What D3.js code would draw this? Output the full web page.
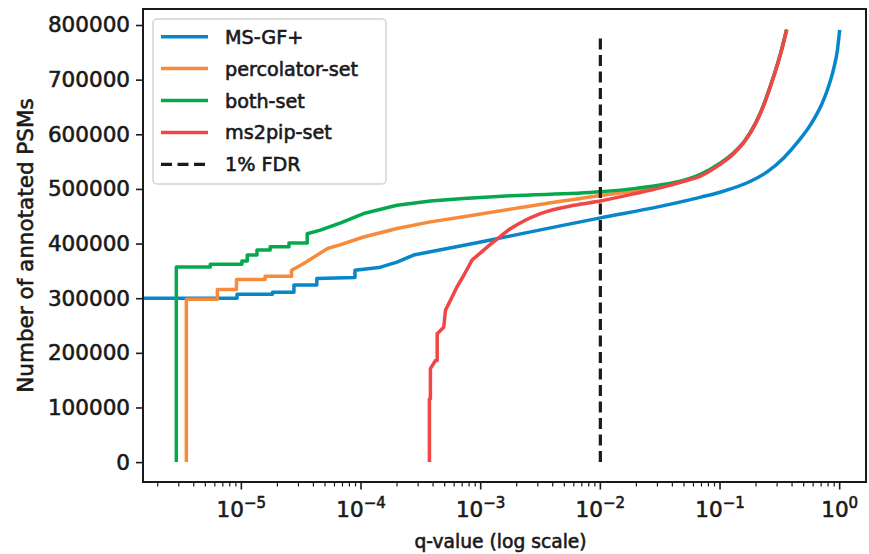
<!DOCTYPE html>
<html>
<head>
<meta charset="utf-8">
<script src="https://cdn.jsdelivr.net/npm/d3@7"></script>
<style>
  body { margin: 0; background: #fff; }
  text { font-family: "DejaVu Sans", sans-serif; fill: #1a1a1a; stroke: #1a1a1a; stroke-width: 0.6px; }
</style>
</head>
<body>
<svg id="chart" width="869" height="554"></svg>
<script>
// q-values and PSM counts (steps are written as repeated q)
var msgfQ = [1.5e-6, 9.2e-6, 9.2e-6, 1.82e-5, 1.82e-5, 2.75e-5, 2.75e-5, 4.27e-5, 4.27e-5, 8.9e-5, 8.9e-5,
             1.41e-4, 2.0e-4, 2.75e-4, 5.25e-4, 1e-3, 3.16e-3, 0.01, 0.0316, 0.0692, 0.1, 0.18, 0.251, 0.342,
             0.447, 0.573, 0.708, 0.789, 0.891, 0.957, 1.0];
var msgfN = [300000, 300000, 307000, 307000, 311000, 311000, 324000, 324000, 336000, 338000, 351000,
             356000, 366000, 379000, 391000, 403000, 425000, 447000, 468000, 485000, 494000, 514000, 532000, 557000,
             586000, 618000, 655000, 681000, 720000, 754000, 791000];

var percQ = [3.47e-6, 3.47e-6, 6.3e-6, 6.3e-6, 9.1e-6, 9.1e-6, 1.58e-5, 1.58e-5, 2.63e-5, 2.63e-5, 3.24e-5, 3.9e-5, 5.25e-5, 6.76e-5,
             1.05e-4, 2.0e-4, 3.8e-4, 7.2e-4, 1.78e-3, 0.01, 0.01995, 0.0316, 0.0501, 0.0692, 0.1, 0.1306,
             0.162, 0.1986, 0.229, 0.2564, 0.288, 0.3214, 0.3606];
var percN = [0, 298000, 298000, 316000, 316000, 334000, 334000, 340000, 340000, 351000, 362000, 373000, 391000, 398000,
             412000, 427600, 439700, 449000, 463000, 488000, 497000, 505000, 515000, 525500, 545500, 565500,
             588000, 620000, 650000, 680000, 713000, 748000, 791000];

var bothQ = [2.86e-6, 2.86e-6, 5.5e-6, 5.5e-6, 1.01e-5, 1.01e-5, 1.12e-5, 1.12e-5, 1.35e-5, 1.35e-5, 1.74e-5, 1.74e-5, 2.5e-5, 2.5e-5,
             3.55e-5, 3.55e-5, 4.57e-5, 6.76e-5, 1.05e-4, 2.0e-4, 3.8e-4, 7.2e-4, 1.78e-3, 0.01, 0.01995, 0.0316, 0.0501,
             0.0692, 0.1, 0.1306, 0.162, 0.1986, 0.229, 0.2564, 0.288, 0.3214, 0.3606];
var bothN = [0, 357000, 357000, 362000, 362000, 368000, 368000, 379000, 379000, 388000, 388000, 394000, 394000, 401000,
             401000, 418000, 424500, 438000, 455000, 470000, 478000, 482600, 487500, 494700, 501000, 507000, 516000,
             527000, 547000, 566500, 589000, 621000, 651000, 681000, 714000, 749000, 792000];

var ms2pipQ = [3.73e-4, 3.73e-4, 3.80e-4, 3.80e-4, 4.19e-4, 4.33e-4, 4.33e-4, 4.91e-4, 5.08e-4, 5.58e-4, 6.35e-4, 7.23e-4,
               8.49e-4, 1.06e-3, 1.21e-3, 1.33e-3, 1.77e-3, 3.16e-3, 6.0e-3, 0.01, 0.01995, 0.0316, 0.0501, 0.0692, 0.1,
               0.1306, 0.162, 0.1986, 0.229, 0.2564, 0.288, 0.3214, 0.3606];
var ms2pipN = [0, 116000, 116000, 171000, 186000, 186000, 235000, 247000, 278000, 296000, 321000, 342000,
               370000, 388000, 399000, 406000, 427000, 455000, 470000, 478000, 492000, 502000, 514000, 524000, 545000,
               565000, 588000, 620000, 650000, 680000, 713000, 748000, 791000];

var seriesNames = ["MS-GF+", "percolator-set", "both-set", "ms2pip-set"];
var seriesColors = ["#0787c9", "#f68b3b", "#05a84f", "#ef4747"];
var fdrQ = 0.01, fdrSpan = [0, 785000];
var yTicks = [0, 100000, 200000, 300000, 400000, 500000, 600000, 700000, 800000];
var xDecades = [-5, -4, -3, -2, -1, 0];

function zipSeries(qs, ns) { return qs.map(function(q, i) { return {q: q, n: ns[i]}; }); }
var series = [
  zipSeries(msgfQ, msgfN), zipSeries(percQ, percN), zipSeries(bothQ, bothN), zipSeries(ms2pipQ, ms2pipN)
];

var svg = d3.select("#chart");
var mLeft = 143, mRight = 866, mTop = 9, mBottom = 482;

var x = d3.scaleLog().domain([Math.pow(10, -5.822), Math.pow(10, 0.22)]).range([mLeft, mRight]);
var y = d3.scaleLinear().domain([-36400, 829300]).range([mBottom, mTop]);

svg.append("defs").append("clipPath").attr("id", "plotclip")
  .append("rect").attr("x", mLeft).attr("y", mTop).attr("width", mRight - mLeft).attr("height", mBottom - mTop);

// stepped low-q part drawn straight, the tail (q above ~1e-3) smoothed
var smoothFrom = 1e-3;
var stepLine = d3.line().x(function(d) { return x(d.q); }).y(function(d) { return y(d.n); });
var smoothLine = d3.line().x(function(d) { return x(d.q); }).y(function(d) { return y(d.n); }).curve(d3.curveMonotoneX);
function seriesPath(pts) {
  var cut = 0;
  for (var i = 0; i < pts.length; i++) if (pts[i].q < smoothFrom) cut = i;
  return stepLine(pts.slice(0, cut + 1)) + smoothLine(pts.slice(cut)).replace(/^M/, "L");
}

var plot = svg.append("g").attr("clip-path", "url(#plotclip)");
plot.selectAll("path.series")
  .data(series)
  .enter().append("path")
    .attr("class", "series")
    .attr("d", seriesPath)
    .attr("fill", "none")
    .attr("stroke", function(d, i) { return seriesColors[i]; })
    .attr("stroke-width", 3.5)
    .attr("stroke-linejoin", "round");

plot.append("line")
  .attr("x1", x(fdrQ)).attr("x2", x(fdrQ))
  .attr("y1", y(fdrSpan[0])).attr("y2", y(fdrSpan[1]))
  .attr("stroke", "#1a1a1a").attr("stroke-width", 3.2)
  .attr("stroke-dasharray", "11,5.5");

// y axis
var yAxis = d3.axisLeft(y).tickValues(yTicks).tickSize(7).tickPadding(6).tickFormat(d3.format("d"));
var gy = svg.append("g").attr("transform", "translate(" + mLeft + ",0)").call(yAxis);
gy.select(".domain").remove();
gy.selectAll(".tick line").attr("stroke", "#1a1a1a").attr("stroke-width", 1.6);
gy.selectAll(".tick text").attr("font-family", "DejaVu Sans").attr("font-size", 21.5).attr("fill", "#1a1a1a");

// x axis: major decade ticks, minor 2..9
var minor = [];
for (var k = -6; k <= 0; k++) {
  for (var m = 2; m <= 9; m++) {
    var v = m * Math.pow(10, k);
    if (v > x.domain()[0] && v < x.domain()[1]) minor.push(v);
  }
}
var gx = svg.append("g").attr("transform", "translate(0," + mBottom + ")");
gx.selectAll("line.minor").data(minor).enter().append("line")
  .attr("x1", function(d) { return x(d); }).attr("x2", function(d) { return x(d); })
  .attr("y1", 0).attr("y2", 4.5).attr("stroke", "#1a1a1a").attr("stroke-width", 1.2);
gx.selectAll("line.major").data(xDecades).enter().append("line")
  .attr("x1", function(d) { return x(Math.pow(10, d)); }).attr("x2", function(d) { return x(Math.pow(10, d)); })
  .attr("y1", 0).attr("y2", 7.5).attr("stroke", "#1a1a1a").attr("stroke-width", 1.6);
var xl = gx.selectAll("text.lab").data(xDecades).enter().append("text")
  .attr("x", function(d) { return x(Math.pow(10, d)); })
  .attr("y", 34.5)
  .attr("text-anchor", "middle")
  .attr("font-size", 21.5);
xl.append("tspan").text("10");
xl.append("tspan").attr("dy", -9).attr("font-size", 15)
  .text(function(d) { return d === 0 ? "0" : "\u2212" + Math.abs(d); });

// spines
svg.append("rect").attr("x", mLeft).attr("y", mTop).attr("width", mRight - mLeft).attr("height", mBottom - mTop)
  .attr("fill", "none").attr("stroke", "#1a1a1a").attr("stroke-width", 2);

// axis titles
svg.append("text").attr("x", (mLeft + mRight) / 2 - 4).attr("y", 548)
  .attr("text-anchor", "middle").attr("font-size", 18.7).text("q-value (log scale)");
svg.append("text").attr("transform", "translate(33," + ((mTop + mBottom) / 2) + ") rotate(-90)")
  .attr("text-anchor", "middle").attr("font-size", 21.5).text("Number of annotated PSMs");

// legend
var legend = svg.append("g");
legend.append("rect").attr("x", 153).attr("y", 19).attr("width", 233).attr("height", 165)
  .attr("rx", 4).attr("fill", "#fff").attr("fill-opacity", 0.85)
  .attr("stroke", "#d3d3d3").attr("stroke-width", 1.5);
var legendItems = seriesNames.map(function(n, i) { return {name: n, color: seriesColors[i], dash: null}; });
legendItems.push({name: "1% FDR", color: "#1a1a1a", dash: "11,5.5"});
var li = legend.selectAll("g.item").data(legendItems).enter().append("g")
  .attr("transform", function(d, i) { return "translate(161," + (36.7 + i * 31.9) + ")"; });
li.append("line").attr("x1", 0).attr("x2", 47).attr("y1", 0).attr("y2", 0)
  .attr("stroke", function(d) { return d.color; })
  .attr("stroke-width", function(d) { return d.dash ? 3.2 : 3.5; })
  .attr("stroke-dasharray", function(d) { return d.dash; });
li.append("text").attr("x", 64).attr("y", 7).attr("font-size", 19.2).text(function(d) { return d.name; });
</script>
</body>
</html>
